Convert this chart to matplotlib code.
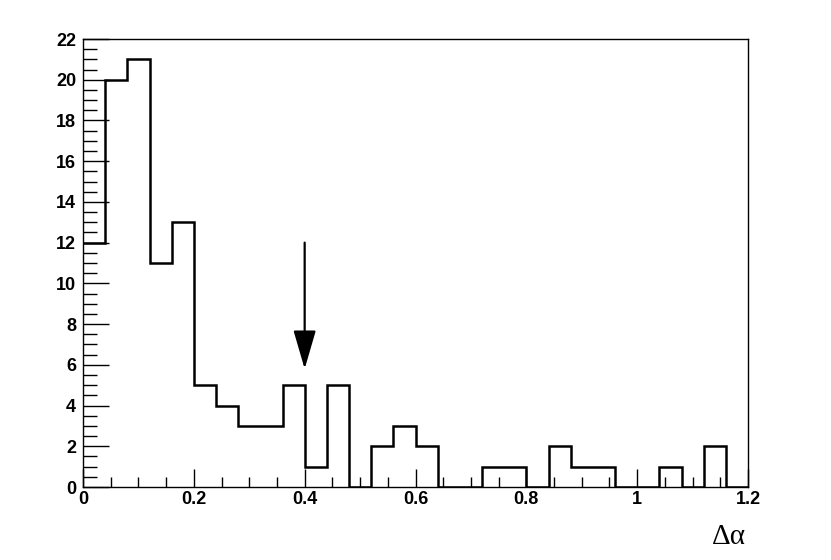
import matplotlib
matplotlib.use("Agg")
import matplotlib.pyplot as plt
import numpy as np
from matplotlib.ticker import MultipleLocator, FuncFormatter

bin_edges = np.round(np.arange(0, 1.2001, 0.04), 4)
counts = [12, 20, 21, 11, 13, 5, 4, 3, 3, 5, 1, 5, 0, 2, 3, 2, 0, 0, 1, 1,
          0, 2, 1, 1, 0, 0, 1, 0, 2, 0]
arrow_x = 0.4
arrow_top = 12
arrow_tip = 5.8
xlabel = "Δα"

plt.rcParams["font.family"] = ["Liberation Sans", "DejaVu Sans"]
plt.rcParams["font.weight"] = "bold"
plt.rcParams["xtick.labelsize"] = 13
plt.rcParams["ytick.labelsize"] = 13

fig = plt.figure(figsize=(8.31, 5.60), dpi=100)
ax = fig.add_axes([83/831, 73/560, 665/831, 448/560])

ax.stairs(counts, bin_edges, color="black", linewidth=1.8, baseline=None)
ax.set_xlim(0, 1.2)
ax.set_ylim(0, 22)

ax.xaxis.set_major_locator(MultipleLocator(0.2))
ax.xaxis.set_minor_locator(MultipleLocator(0.05))
ax.yaxis.set_major_locator(MultipleLocator(2))
ax.yaxis.set_minor_locator(MultipleLocator(0.5))

def fmt(v, pos):
    s = f"{v:.1f}"
    if s.endswith(".0"):
        s = s[:-2]
    return s
ax.xaxis.set_major_formatter(FuncFormatter(fmt))

ax.tick_params(axis="both", which="both", direction="in", top=False, right=False, width=1)
ax.tick_params(axis="y", which="major", length=19, pad=5)
ax.tick_params(axis="y", which="minor", length=10)
ax.tick_params(axis="x", which="major", length=13, pad=3)
ax.tick_params(axis="x", which="minor", length=7)
for sp in ax.spines.values():
    sp.set_linewidth(1.0)

ax.annotate("", xy=(arrow_x, arrow_tip), xytext=(arrow_x, arrow_top),
            arrowprops=dict(arrowstyle="-|>,head_length=2.4,head_width=0.7",
                            mutation_scale=10,
                            color="black", lw=1.6, shrinkA=0, shrinkB=0))

fig.text(746/831, 1 - 537/560, xlabel, ha="right", va="center",
         fontsize=21, family="Liberation Serif", fontweight="normal")

fig.savefig("out.png", dpi=100)
